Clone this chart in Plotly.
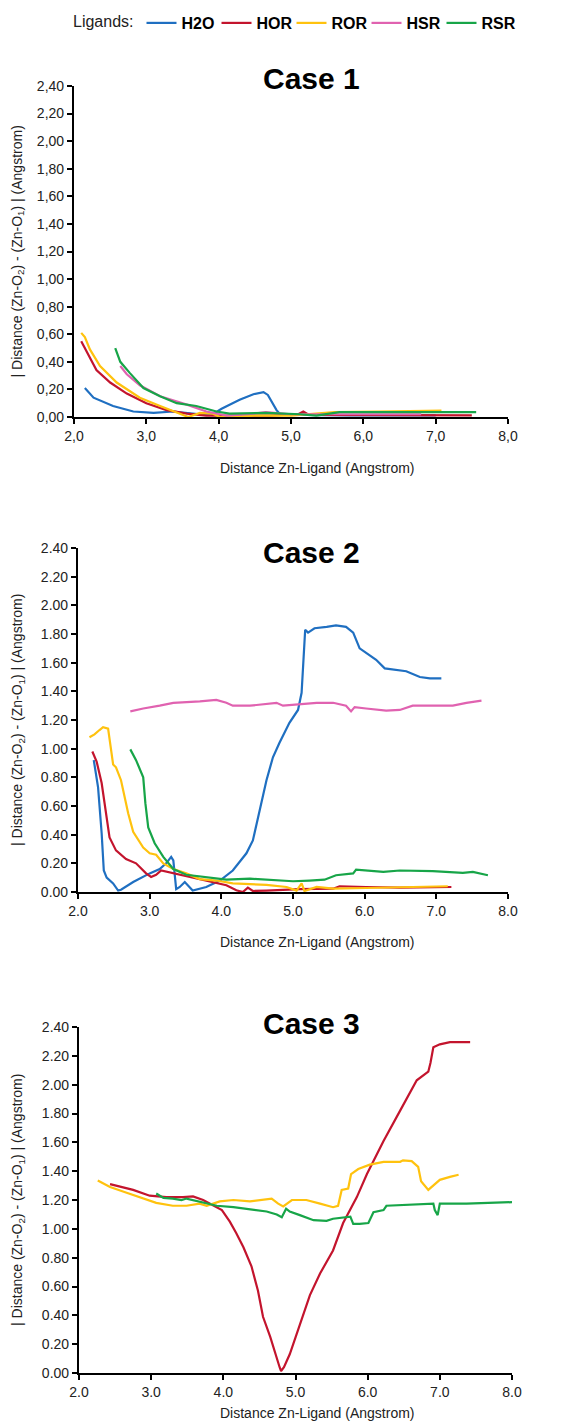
import plotly.graph_objects as go

# figure is sized/positioned so the plot areas land where the reference has them
OFF = 8
W, H = 578 - OFF, 1422 - OFF

# ---------------- data ----------------
ligands = ["H2O", "HOR", "ROR", "HSR", "RSR"]
colors = {"H2O": "#1f6fc1", "HOR": "#c3142d", "ROR": "#ffc20e", "HSR": "#e062b0", "RSR": "#17a548"}

x_ticks = [2, 3, 4, 5, 6, 7, 8]
x_labels_c1 = ["2,0", "3,0", "4,0", "5,0", "6,0", "7,0", "8,0"]
x_labels_dot = ["2.0", "3.0", "4.0", "5.0", "6.0", "7.0", "8.0"]
y_ticks = [0.0, 0.2, 0.4, 0.6, 0.8, 1.0, 1.2, 1.4, 1.6, 1.8, 2.0, 2.2, 2.4]
y_labels_c1 = ["0,00", "0,20", "0,40", "0,60", "0,80", "1,00", "1,20", "1,40", "1,60", "1,80", "2,00", "2,20", "2,40"]
y_labels_dot = ["0.00", "0.20", "0.40", "0.60", "0.80", "1.00", "1.20", "1.40", "1.60", "1.80", "2.00", "2.20", "2.40"]

# Case 1
c1_h2o_x = [2.15, 2.27, 2.54, 2.82, 3.10, 3.37, 3.74, 3.92, 4.04, 4.29, 4.48, 4.62, 4.68, 4.80, 4.85, 5.2, 5.8, 6.5, 7.0]
c1_h2o_y = [0.21, 0.14, 0.08, 0.04, 0.03, 0.04, 0.02, 0.02, 0.06, 0.125, 0.165, 0.18, 0.16, 0.05, 0.02, 0.015, 0.012, 0.012, 0.012]
c1_hor_x = [2.10, 2.17, 2.31, 2.50, 2.73, 3.00, 3.28, 3.56, 3.83, 4.2, 4.7, 5.1, 5.17, 5.25, 5.8, 6.5, 7.5]
c1_hor_y = [0.55, 0.48, 0.34, 0.25, 0.17, 0.10, 0.05, 0.025, 0.01, 0.01, 0.01, 0.02, 0.04, 0.015, 0.015, 0.012, 0.012]
c1_ror_x = [2.10, 2.15, 2.22, 2.36, 2.59, 2.91, 3.19, 3.42, 3.58, 3.74, 3.92, 4.02, 4.5, 5.0, 5.3, 5.6, 6.2, 7.08]
c1_ror_y = [0.61, 0.58, 0.49, 0.37, 0.25, 0.14, 0.08, 0.03, 0.0, 0.03, 0.024, 0.0, 0.01, 0.01, 0.025, 0.035, 0.04, 0.046]
c1_hsr_x = [2.64, 2.73, 2.91, 3.19, 3.56, 3.83, 4.11, 4.4, 4.65, 5.0, 5.5, 6.0, 6.8]
c1_hsr_y = [0.37, 0.31, 0.23, 0.15, 0.09, 0.04, 0.01, 0.02, 0.035, 0.02, 0.02, 0.02, 0.02]
c1_rsr_x = [2.57, 2.64, 2.77, 2.96, 3.19, 3.42, 3.69, 3.97, 4.15, 4.66, 5.12, 5.35, 5.67, 6.5, 7.56]
c1_rsr_y = [0.50, 0.40, 0.32, 0.21, 0.15, 0.10, 0.08, 0.04, 0.025, 0.03, 0.02, 0.01, 0.035, 0.035, 0.035]

# Case 2
c2_h2o_x = [2.22, 2.28, 2.33, 2.36, 2.40, 2.49, 2.56, 2.60, 2.77, 3.00, 3.14, 3.23, 3.30, 3.33, 3.37, 3.42, 3.49, 3.56, 3.60,
            3.79, 3.98, 4.16, 4.35, 4.44, 4.53, 4.63, 4.72, 4.81, 4.95, 5.07, 5.12, 5.15, 5.17, 5.21, 5.30, 5.47, 5.60, 5.74,
            5.84, 5.93, 6.02, 6.16, 6.28, 6.44, 6.58, 6.77, 6.91, 7.07]
c2_h2o_y = [0.92, 0.73, 0.41, 0.15, 0.10, 0.06, 0.01, 0.016, 0.07, 0.13, 0.16, 0.20, 0.245, 0.22, 0.02, 0.035, 0.07, 0.035, 0.01,
            0.035, 0.08, 0.15, 0.27, 0.36, 0.55, 0.78, 0.94, 1.04, 1.18, 1.27, 1.39, 1.67, 1.83, 1.81, 1.84, 1.85, 1.86, 1.85,
            1.81, 1.70, 1.67, 1.62, 1.56, 1.55, 1.54, 1.50, 1.49, 1.49]
c2_hor_x = [2.20, 2.26, 2.33, 2.39, 2.44, 2.53, 2.67, 2.81, 2.95, 3.02, 3.09, 3.16, 3.33, 3.56, 3.79, 4.07, 4.21, 4.30, 4.37,
            4.44, 4.63, 5.09, 5.56, 5.65, 6.02, 6.49, 7.21]
c2_hor_y = [0.98, 0.91, 0.76, 0.55, 0.38, 0.29, 0.23, 0.20, 0.13, 0.105, 0.12, 0.15, 0.13, 0.105, 0.08, 0.047, 0.012, 0.0, 0.03,
            0.007, 0.01, 0.02, 0.023, 0.04, 0.035, 0.03, 0.035]
c2_ror_x = [2.16, 2.23, 2.30, 2.35, 2.42, 2.47, 2.49, 2.53, 2.60, 2.70, 2.77, 2.91, 3.00, 3.09, 3.19, 3.33, 3.51, 3.70, 3.93,
            4.16, 4.63, 4.91, 5.05, 5.12, 5.16, 5.33, 5.56, 6.02, 6.49, 7.16]
c2_ror_y = [1.08, 1.10, 1.13, 1.15, 1.14, 0.97, 0.89, 0.87, 0.78, 0.55, 0.42, 0.31, 0.27, 0.26, 0.20, 0.16, 0.13, 0.09, 0.08,
            0.06, 0.05, 0.035, 0.01, 0.06, 0.007, 0.035, 0.023, 0.028, 0.035, 0.04]
c2_hsr_x = [2.73, 2.91, 3.14, 3.33, 3.70, 3.93, 4.07, 4.16, 4.40, 4.63, 4.77, 4.86, 5.09, 5.33, 5.56, 5.74, 5.81, 5.86, 6.02,
            6.30, 6.49, 6.67, 6.95, 7.23, 7.42, 7.63]
c2_hsr_y = [1.26, 1.28, 1.30, 1.32, 1.33, 1.34, 1.32, 1.30, 1.30, 1.31, 1.32, 1.30, 1.31, 1.32, 1.32, 1.30, 1.26, 1.29, 1.28,
            1.265, 1.27, 1.30, 1.30, 1.30, 1.32, 1.335]
c2_rsr_x = [2.73, 2.81, 2.91, 2.94, 2.98, 3.07, 3.19, 3.33, 3.51, 3.79, 4.07, 4.40, 4.72, 5.00, 5.23, 5.44, 5.60, 5.84, 5.88,
            6.02, 6.26, 6.49, 6.95, 7.37, 7.51, 7.72]
c2_rsr_y = [0.995, 0.92, 0.80, 0.62, 0.45, 0.34, 0.245, 0.16, 0.12, 0.105, 0.086, 0.093, 0.086, 0.075, 0.08, 0.086, 0.117, 0.13,
            0.156, 0.15, 0.14, 0.15, 0.145, 0.133, 0.14, 0.117]

# Case 3
c3_hor_x = [2.43, 2.75, 2.98, 3.21, 3.44, 3.58, 3.72, 3.86, 3.98, 4.09, 4.18, 4.28, 4.39, 4.48, 4.55, 4.65, 4.72, 4.78, 4.80,
            4.84, 4.92, 5.06, 5.20, 5.34, 5.52, 5.66, 5.85, 5.99, 6.22, 6.45, 6.68, 6.84, 6.87, 6.91, 7.00, 7.14, 7.42]
c3_hor_y = [1.31, 1.27, 1.23, 1.22, 1.22, 1.225, 1.20, 1.16, 1.13, 1.05, 0.97, 0.87, 0.74, 0.57, 0.39, 0.25, 0.13, 0.04, 0.014,
            0.04, 0.13, 0.34, 0.54, 0.69, 0.85, 1.04, 1.22, 1.38, 1.61, 1.82, 2.03, 2.09, 2.15, 2.26, 2.28, 2.295, 2.295]
c3_ror_x = [2.26, 2.43, 2.66, 2.89, 3.07, 3.30, 3.49, 3.67, 3.77, 3.95, 4.14, 4.37, 4.55, 4.67, 4.76, 4.83, 4.95, 5.15, 5.34,
            5.52, 5.59, 5.64, 5.73, 5.77, 5.87, 6.03, 6.22, 6.45, 6.49, 6.61, 6.70, 6.74, 6.84, 6.91, 7.00, 7.14, 7.26]
c3_ror_y = [1.335, 1.29, 1.25, 1.21, 1.18, 1.16, 1.16, 1.175, 1.16, 1.19, 1.20, 1.19, 1.20, 1.21, 1.175, 1.155, 1.20, 1.20, 1.175,
            1.15, 1.16, 1.27, 1.28, 1.38, 1.415, 1.445, 1.465, 1.465, 1.475, 1.47, 1.43, 1.33, 1.27, 1.30, 1.34, 1.36, 1.375]
c3_rsr_x = [3.07, 3.17, 3.30, 3.42, 3.49, 3.67, 3.91, 4.14, 4.41, 4.60, 4.74, 4.81, 4.87, 4.92, 5.06, 5.25, 5.43, 5.52, 5.76,
            5.80, 5.89, 6.01, 6.08, 6.15, 6.22, 6.26, 6.91, 6.93, 6.97, 7.00, 7.37, 8.00]
c3_rsr_y = [1.245, 1.215, 1.21, 1.20, 1.21, 1.19, 1.16, 1.15, 1.13, 1.12, 1.10, 1.08, 1.14, 1.12, 1.095, 1.06, 1.055, 1.07, 1.085,
            1.035, 1.035, 1.04, 1.115, 1.125, 1.13, 1.16, 1.175, 1.13, 1.095, 1.175, 1.175, 1.185]

cases = [
    {"title": "Case 1", "xl": x_labels_c1, "yl": y_labels_c1,
     "series": [("H2O", c1_h2o_x, c1_h2o_y), ("HOR", c1_hor_x, c1_hor_y), ("ROR", c1_ror_x, c1_ror_y),
                ("HSR", c1_hsr_x, c1_hsr_y), ("RSR", c1_rsr_x, c1_rsr_y)]},
    {"title": "Case 2", "xl": x_labels_dot, "yl": y_labels_dot,
     "series": [("H2O", c2_h2o_x, c2_h2o_y), ("HOR", c2_hor_x, c2_hor_y), ("ROR", c2_ror_x, c2_ror_y),
                ("HSR", c2_hsr_x, c2_hsr_y), ("RSR", c2_rsr_x, c2_rsr_y)]},
    {"title": "Case 3", "xl": x_labels_dot, "yl": y_labels_dot,
     "series": [("HOR", c3_hor_x, c3_hor_y), ("ROR", c3_ror_x, c3_ror_y), ("RSR", c3_rsr_x, c3_rsr_y)]},
]

# ---------------- layout geometry (screen pixels) ----------------
# (x_left, x_right, y_top, y_bottom, title_y, xtitle_y)
geom = [
    (74, 508, 86, 417, 78, 468),
    (78, 508, 548, 892, 552, 942),
    (79, 512, 1027, 1373, 1023, 1413),
]


def px(v):
    return (v - OFF) / W


def py(v):
    return 1 - (v - OFF) / H


FONT = "Liberation Sans, Arial, sans-serif"
fig = go.Figure()
layout = {}
annotations = []

for i, (case, g) in enumerate(zip(cases, geom)):
    xl, xr, yt, yb, ty, xty = g
    ax = "" if i == 0 else str(i + 1)
    for name, xs, ys in case["series"]:
        fig.add_trace(go.Scatter(
            x=xs, y=ys, mode="lines", name=name,
            line=dict(color=colors[name], width=2.2, shape="linear"),
            xaxis="x" + ax, yaxis="y" + ax,
            legendgroup=name, showlegend=(i == 1),
        ))
    layout["xaxis" + ax] = dict(
        domain=[px(xl), px(xr)], anchor="y" + ax, range=[2, 8],
        tickvals=x_ticks, ticktext=case["xl"], automargin=False,
        showline=True, linecolor="black", linewidth=2.2,
        ticks="outside", ticklen=5, tickwidth=2, tickcolor="black",
        showgrid=False, zeroline=False,
        tickfont=dict(family=FONT, size=14, color="#222"),
    )
    layout["yaxis" + ax] = dict(
        domain=[py(yb), py(yt)], anchor="x" + ax, range=[0, 2.4],
        tickvals=y_ticks, ticktext=case["yl"], automargin=False,
        showline=True, linecolor="black", linewidth=2.2,
        ticks="outside", ticklen=5, tickwidth=2, tickcolor="black",
        showgrid=False, zeroline=False,
        tickfont=dict(family=FONT, size=14, color="#222"),
    )
    annotations.append(dict(
        text="<b>" + case["title"] + "</b>", x=px(311), y=py(ty), xref="paper", yref="paper",
        showarrow=False, xanchor="center", yanchor="middle",
        font=dict(family=FONT, size=30, color="black"),
    ))
    annotations.append(dict(
        text="Distance Zn-Ligand (Angstrom)", x=px(317), y=py(xty), xref="paper", yref="paper",
        showarrow=False, xanchor="center", yanchor="middle",
        font=dict(family=FONT, size=14, color="#222"),
    ))
    annotations.append(dict(
        text="| Distance (Zn-O<sub>2</sub>) - (Zn-O<sub>1</sub>) | (Angstrom)",
        x=px(18), y=py((yt + yb) / 2), xref="paper", yref="paper", textangle=-90,
        showarrow=False, xanchor="center", yanchor="middle",
        font=dict(family=FONT, size=14, color="#222"),
    ))

fig.update_layout(
    width=W, height=H,
    margin=dict(l=0, r=0, t=0, b=0, autoexpand=False),
    paper_bgcolor="white", plot_bgcolor="white",
    showlegend=True,
    legend=dict(
        orientation="h", x=px(71), y=py(6), xanchor="left", yanchor="top",
        title=dict(text="Ligands:", side="left",
                   font=dict(family=FONT, size=16, color="#222", weight="normal")),
        font=dict(family=FONT, size=16, color="black", weight="bold"),
        itemwidth=30, entrywidth=30, entrywidthmode="pixels",
        tracegroupgap=0, bgcolor="rgba(0,0,0,0)",
    ),
    annotations=annotations,
    **layout,
)

fig.write_html("out.html")
